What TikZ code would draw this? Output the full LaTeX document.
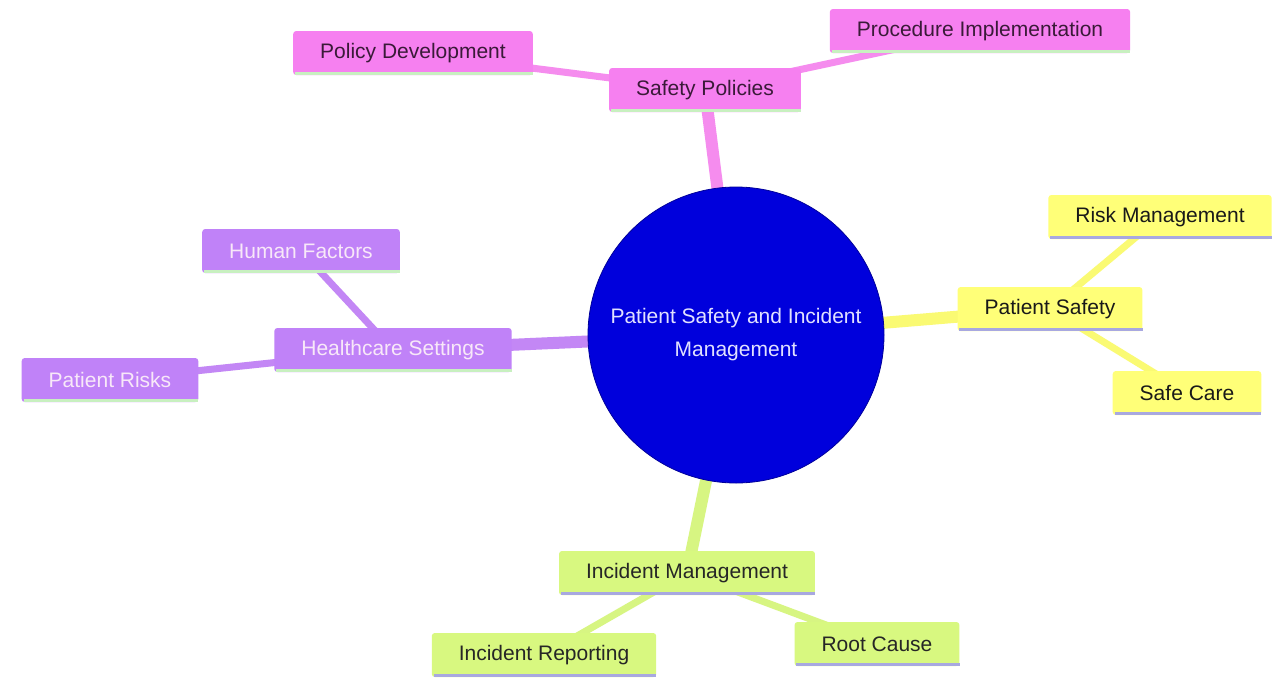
\documentclass[tikz,border=0pt]{standalone}
\usepackage{fontspec}
\setmainfont{Liberation Sans}
\usetikzlibrary{backgrounds}
\definecolor{pinkbox}{RGB}{246,128,240}
\definecolor{pinkline}{RGB}{245,140,238}
\definecolor{yelbox}{RGB}{255,255,120}
\definecolor{yelline}{RGB}{250,250,115}
\definecolor{purbox}{RGB}{192,130,248}
\definecolor{purline}{RGB}{195,135,245}
\definecolor{grnbox}{RGB}{216,248,128}
\definecolor{grnline}{RGB}{215,245,130}
\definecolor{rootblue}{RGB}{0,0,220}
\definecolor{ulgreen}{RGB}{200,240,192}
\definecolor{ullav}{RGB}{168,168,224}
\definecolor{pinktext}{RGB}{58,26,56}
\definecolor{purtext}{RGB}{248,232,248}
\definecolor{roottext}{RGB}{225,225,255}
\tikzset{
  x=1pt, y=-1pt,
  box/.style={rectangle, rounded corners=3pt, inner xsep=27pt, inner ysep=0pt,
    minimum height=44pt, font=\fontsize{21}{25}\selectfont},
  pinkn/.style={box, fill=pinkbox, text=pinktext},
  yeln/.style={box, fill=yelbox, text=black!90},
  purn/.style={box, fill=purbox, text=purtext},
  grnn/.style={box, fill=grnbox, text=black!85},
  mainedge/.style={line width=12pt},
  subedge/.style={line width=7pt},
  ul/.style={line width=3.5pt},
}
\begin{document}
\begin{tikzpicture}
\useasboundingbox (0,0) rectangle (1274,678);

\node[circle, fill=rootblue, draw=rootblue!70!black, line width=0.8pt, minimum size=296pt,
      align=center, text=roottext, font=\fontsize{21}{33}\selectfont] (root) at (736,335)
      {Patient Safety and Incident\\Management};

\node[pinkn] (sp) at (705,90) {Safety Policies};
\node[pinkn] (pd) at (413,53) {Policy Development};
\node[pinkn] (pi) at (980,31) {Procedure Implementation};

\node[yeln] (ps) at (1050,309) {Patient Safety};
\node[yeln] (rm) at (1160,217) {Risk Management};
\node[yeln] (sc) at (1187,393) {Safe Care};

\node[purn] (hs) at (393,350) {Healthcare Settings};
\node[purn] (hf) at (301,251) {Human Factors};
\node[purn] (pr) at (110,380) {Patient Risks};

\node[grnn] (im) at (687,573) {Incident Management};
\node[grnn] (ir) at (544,655) {Incident Reporting};
\node[grnn] (rc) at (877,644) {Root Cause};

\foreach \n in {sp,pd,pi,hs,hf,pr}{
  \draw[ul, ulgreen] ([xshift=2pt,yshift=1.5pt]\n.south west) -- ([yshift=1.5pt]\n.south east);
}
\foreach \n in {ps,rm,sc,im,ir,rc}{
  \draw[ul, ullav] ([xshift=2pt,yshift=1.5pt]\n.south west) -- ([yshift=1.5pt]\n.south east);
}

\begin{scope}[on background layer]
  \fill[white] (0,0) rectangle (1274,678);
  \draw[mainedge, pinkline] (root.center) -- (sp.center);
  \draw[subedge, pinkline] (sp.center) -- (pd.center);
  \draw[subedge, pinkline] (sp.center) -- (pi.center);
  \draw[mainedge, yelline] (root.center) -- (ps.center);
  \draw[subedge, yelline] (ps.center) -- (rm.center);
  \draw[subedge, yelline] (ps.center) -- (sc.center);
  \draw[mainedge, purline] (root.center) -- (hs.center);
  \draw[subedge, purline] (hs.center) -- (hf.center);
  \draw[subedge, purline] (hs.center) -- (pr.center);
  \draw[mainedge, grnline] (root.center) -- (im.center);
  \draw[subedge, grnline] (im.center) -- (ir.center);
  \draw[subedge, grnline] (im.center) -- (rc.center);
\end{scope}
\end{tikzpicture}
\end{document}
